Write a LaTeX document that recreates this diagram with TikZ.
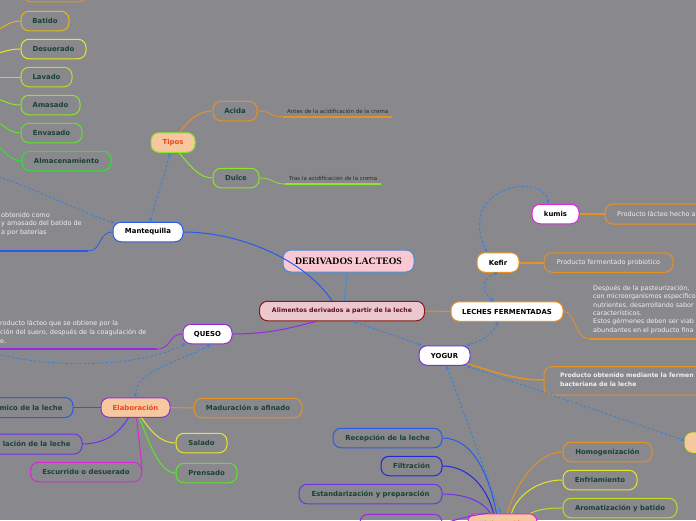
\documentclass[tikz,border=0pt]{standalone}
\usepackage{fontspec}
\setmainfont{DejaVu Sans}
\newfontfamily\serifb{Liberation Serif}
\usetikzlibrary{arrows.meta,calc}
\definecolor{bg}{RGB}{137,137,141}
\definecolor{txg}{RGB}{25,65,55}
\definecolor{peach}{RGB}{247,200,160}
\definecolor{redt}{RGB}{235,70,25}
\definecolor{cOr}{RGB}{230,145,35}
\definecolor{cYo}{RGB}{225,185,25}
\definecolor{cYe}{RGB}{230,230,40}
\definecolor{cYg}{RGB}{190,220,40}
\definecolor{cLg}{RGB}{140,230,40}
\definecolor{cGr}{RGB}{90,230,40}
\definecolor{cGg}{RGB}{50,225,50}
\definecolor{cBl}{RGB}{40,90,235}
\definecolor{cDb}{RGB}{30,40,220}
\definecolor{cPu}{RGB}{110,50,235}
\definecolor{cVi}{RGB}{150,40,230}
\definecolor{cMa}{RGB}{215,40,215}
\definecolor{dblue}{RGB}{55,130,215}
\definecolor{tBl}{RGB}{70,140,210}
\definecolor{tPk}{RGB}{250,200,210}
\definecolor{aPk}{RGB}{235,200,205}
\definecolor{aRd}{RGB}{135,25,25}
\definecolor{aTx}{RGB}{95,15,30}
\definecolor{dtx}{RGB}{40,40,40}
\definecolor{wtx}{RGB}{240,240,240}
\tikzset{
  bx/.style={draw=#1, rounded corners=8pt, line width=1pt, minimum height=19.5pt, inner sep=0pt, font=\bfseries\fontsize{6.9}{7.5}\selectfont, text=txg},
  wbx/.style={bx=#1, fill=white, text=black},
  pbx/.style={bx=#1, fill=peach, text=redt},
  ln/.style={draw=#1, line width=1pt},
  dsh/.style={draw=dblue, line width=0.9pt, dash pattern=on 2.5pt off 2pt, {Stealth[length=4pt,width=3.5pt]}-{Stealth[length=4pt,width=3.5pt]}},
  dsh1/.style={draw=dblue, line width=0.9pt, dash pattern=on 2.5pt off 2pt, -{Stealth[length=4pt,width=3.5pt]}},
  desc/.style={text=wtx, font=\fontsize{6.5}{8.8}\selectfont, align=left, inner sep=0pt},
  tiny/.style={text=dtx, font=\fontsize{5.5}{6}\selectfont, inner sep=0pt},
}
\begin{document}
\begin{tikzpicture}[x=1pt,y=-1pt]
\fill[bg] (0,0) rectangle (696,520);
\useasboundingbox (0,0) rectangle (696,520);

% ---- central
\node[draw=tBl, fill=tPk, rounded corners=8pt, line width=1pt, minimum width=131pt, minimum height=22pt, inner sep=0pt, font=\serifb\bfseries\fontsize{9.8}{10}\selectfont] (title) at (348.5,261) {DERIVADOS LACTEOS};
\node[draw=aRd, fill=aPk, text=aTx, rounded corners=8pt, line width=1pt, minimum width=165pt, minimum height=19.5pt, inner sep=0pt, font=\bfseries\fontsize{6.2}{7}\selectfont] (alim) at (342,311) {Alimentos derivados a partir de la leche};

% ---- Mantequilla branch
\node[wbx=cBl, minimum width=70pt] (mant) at (148,232) {Mantequilla};
\node[pbx=cLg, minimum width=44pt] (tipos) at (173,142.5) {Tipos};
\node[bx=cOr, minimum width=44pt] (acida) at (235,111) {Acida};
\node[bx=cLg, minimum width=46pt] (dulce) at (236,178) {Dulce};
\node[tiny, anchor=west] (tacida) at (287,111) {Antes de la acidificación de la crema};
\node[tiny, anchor=west] (tdulce) at (289,178) {Tras la acidificación de la crema};
\coordinate (ua1) at (283,117); \coordinate (ua2) at (392,117);
\coordinate (ud1) at (285,184); \coordinate (ud2) at (381,184);
\draw[cOr, line width=0.8pt] (acida.east) .. controls (272,111) and (270,117) .. (ua1);
\draw[cOr, line width=1.8pt] (ua1) -- (ua2);
\draw[cLg, line width=0.8pt] (dulce.east) .. controls (274,178) and (272,184) .. (ud1);
\draw[cLg, line width=1.8pt] (ud1) -- (ud2);
\draw[ln=cOr] ($(tipos.north)+(7,0)$) .. controls (190,118) and (200,111) .. (acida.west);
\draw[ln=cLg] ($(tipos.south)+(6,0)$) .. controls (192,168) and (200,178) .. (dulce.west);

% left column
\node[bx=cOr, minimum width=64pt] (topb) at (55,-8) {};
\node[bx=cYo, minimum width=48pt] (batido) at (45,21) {Batido};
\node[bx=cYe, minimum width=65pt] (desuer) at (53.5,49) {Desuerado};
\node[bx=cYg, minimum width=51pt] (lavado) at (46.5,77) {Lavado};
\node[bx=cLg, minimum width=59pt] (amasado) at (50.5,105) {Amasado};
\node[bx=cGr, minimum width=61pt] (envasado) at (51.5,133) {Envasado};
\node[bx=cGg, minimum width=89pt] (almac) at (66.5,161) {Almacenamiento};
\coordinate (l1) at (-10,33); \coordinate (l2) at (-10,55); \coordinate (l3) at (-10,77);
\coordinate (l4) at (-10,97); \coordinate (l5) at (-10,119); \coordinate (l6) at (-10,141);
\draw[ln=cYo] (l1) .. controls (5,28) and (8,21) .. (batido.west);
\draw[ln=cYe] (l2) .. controls (5,52) and (8,49) .. (desuer.west);
\draw[ln=cYg] (l3) -- (lavado.west);
\draw[ln=cLg] (l4) .. controls (5,100) and (8,105) .. (amasado.west);
\draw[ln=cGr] (l5) .. controls (5,124) and (8,133) .. (envasado.west);
\draw[ln=cGg] (l6) .. controls (5,148) and (8,161) .. (almac.west);

% Mantequilla description
\node[desc, anchor=north west] (dmant) at (1,212) {obtenido como\\y amasado del batido de\\a por baterias};
\coordinate (um0) at (-5,251); \coordinate (um1) at (88,251);
\draw[cBl, line width=1.8pt] (um0) -- (um1);
\draw[cBl, line width=0.8pt] (um1) .. controls (102,251) and (98,232) .. (mant.west);

% dashed into Mantequilla
\coordinate (dl1) at (-10,174);
\draw[dsh1] (dl1) .. controls (40,190) and (80,212) .. ($(mant.west)+(2,-9)$);
\draw[dsh] ($(mant.north)+(2,0)$) .. controls (156,200) and (166,170) .. ($(tipos.south)+(-3,0)$);

\draw[ln=cBl] (mant.east) .. controls (240,232) and (305,260) .. ($(alim.north)+(-10,0)$);
\draw[ln=tBl] ($(title.south)+(-1,0)$) -- ($(alim.north)+(2,0)$);

% ---- QUESO branch
\node[wbx=cVi, minimum width=49pt] (queso) at (207.5,334) {QUESO};
\node[desc, anchor=north west] (dqueso) at (0,320) {roducto lácteo que se obtiene por la\\ción del suero, después de la coagulación de\\e.};
\coordinate (uq0) at (-5,349); \coordinate (uq1) at (157,349);
\draw[cVi, line width=1.8pt] (uq0) -- (uq1);
\draw[cVi, line width=0.8pt] (uq1) .. controls (172,349) and (168,334) .. (queso.west);
\draw[ln=cVi] (queso.east) .. controls (275,334) and (300,325) .. ($(alim.south west)+(58,0)$);
\coordinate (dl2) at (-10,352);
\draw[dsh1] (dl2) .. controls (60,372) and (150,364) .. ($(queso.south west)+(3,-1)$);

% Elaboracion (queso)
\node[pbx=cVi, minimum width=69pt] (elab) at (135.5,407.5) {Elaboración};
\draw[dsh] ($(queso.south)+(3,0)$) .. controls (185,360) and (135,370) .. (elab.north);
\draw[ln=cBl, rounded corners=8pt] (-30,397.5) rectangle (73,417.5);
\node[bx=cBl, draw=none, anchor=east] (term) at (63,407.5) {mico de la leche};
\draw[ln=cPu, rounded corners=8pt] (-30,434) rectangle (82,454);
\node[bx=cPu, draw=none, anchor=east] (coag) at (71,444) {lación de la leche};
\node[bx=cMa, minimum width=111pt] (escur) at (86,472) {Escurrido o desuerado};
\node[bx=cOr, minimum width=108pt] (madur) at (248,408) {Maduración o afinado};
\node[bx=cYe, minimum width=51pt] (salado) at (201.5,443) {Salado};
\node[bx=cGr, minimum width=61pt] (prensado) at (206.5,473) {Prensado};
\coordinate (tE) at (73,407.5); \coordinate (cE) at (82,444);
\draw[ln=cBl] (tE) -- (elab.west);
\draw[ln=cPu] (cE) .. controls (110,444) and (122,428) .. ($(elab.south)+(-7,0)$);
\draw[ln=cMa] ($(elab.south)+(1,0)$) .. controls (139,440) and (141,455) .. (escur.east);
\draw[ln=cYe] ($(elab.south)+(6,0)$) .. controls (150,430) and (160,443) .. (salado.west);
\draw[ln=cGr] ($(elab.south)+(4,0)$) .. controls (150,445) and (160,473) .. (prensado.west);
\draw[ln=cOr] (elab.east) -- (madur.west);

% ---- LECHES FERMENTADAS branch
\node[wbx=cOr, minimum width=112pt] (leches) at (507,311.5) {LECHES FERMENTADAS};
\draw[ln=cOr] (alim.east) -- (leches.west);
\node[wbx=cOr, minimum width=42pt] (kefir) at (498,262.5) {Kefir};
\node[bx=cOr, minimum width=129pt, text=wtx, font=\fontsize{6.5}{7}\selectfont] (dkefir) at (608.5,262.5) {Producto fermentado probiotico};
\draw[cOr, line width=2pt] (kefir.east) -- (dkefir.west);
\node[wbx=cMa, minimum width=47pt] (kumis) at (555.5,214) {kumis};
\draw[ln=cOr, rounded corners=8pt] (605,204) rectangle (720,224);
\node[desc, anchor=west] (dkumis) at (617,214) {Producto lácteo hecho a};
\coordinate (kuW) at (605,214);
\draw[cOr, line width=1.5pt] (kumis.east) -- (kuW);
\draw[dsh] ($(kumis.north)+(-7,0)$) .. controls (545,172) and (455,185) .. ($(kefir.north)+(-11,0)$);
\draw[dsh] (kefir.south) .. controls (478,280) and (484,294) .. ($(leches.north)+(-13,0)$);
\node[desc, anchor=north west, font=\fontsize{6.4}{8.4}\selectfont] (dleches) at (593,285) {Después de la pasteurización,\\con microorganismos específico\\nutrientes, desarrollando sabor\\característicos.\\Estos gérmenes deben ser viab\\abundantes en el producto fina};
\coordinate (ul0) at (590,339); \coordinate (ul1) at (705,339);
\draw[cOr, line width=0.8pt] (leches.east) .. controls (576,311) and (574,339) .. (ul0);
\draw[cOr, line width=1.5pt] (ul0) -- (ul1);

% YOGUR
\node[wbx=cPu, minimum width=51pt] (yogur) at (444.5,355.5) {YOGUR};
\draw[dsh] ($(leches.south)+(-9,0)$) .. controls (490,338) and (478,342) .. ($(yogur.north east)+(-4,0)$);
\draw[dsh] ($(alim.south)+(11,0)$) -- ($(yogur.north west)+(3,0)$);
\draw[ln=cOr, rounded corners=8pt] (544,366.5) rectangle (720,395);
\node[desc, anchor=north west, font=\bfseries\fontsize{6.1}{8.8}\selectfont] (dyogur) at (560,373) {Producto obtenido mediante la fermen\\bacteriana de la leche};
\coordinate (yoW) at (544,380);
\draw[cOr, line width=1.5pt] ($(yogur.south east)+(-3,-2)$) .. controls (495,372) and (515,380) .. (yoW);

% right node
\node[bx=cYe, fill=peach, minimum width=50pt] (rnode) at (710,442.5) {};
\draw[dsh] ($(yogur.south east)+(-4,0)$) -- ($(rnode.west)+(0,-2)$);

% bottom Elaboracion
\node[pbx=cMa, minimum width=69pt, minimum height=19.5pt] (elab2) at (502.5,523.5) {Elaboración};
\draw[dsh] ($(yogur.south)+(2,0)$) -- ($(elab2.north)+(-2,0)$);
\node[bx=cBl, minimum width=109pt] (recep) at (387.5,438) {Recepción de la leche};
\node[bx=cDb, minimum width=61pt] (filtr) at (411.5,466) {Filtración};
\node[bx=cPu, minimum width=143pt] (estan) at (370.5,494) {Estandarización y preparación};
\node[bx=cVi, minimum width=82pt] (pvis) at (401,524) {};
\node[bx=cOr, minimum width=89pt] (homog) at (607.5,452) {Homogenización};
\node[bx=cYe, minimum width=74pt] (enfri) at (600,480) {Enfriamiento};
\node[bx=cYg, minimum width=114pt] (aroma) at (620,508) {Aromatización y batido};
\draw[ln=cBl] (recep.east) .. controls (475,438) and (490,480) .. ($(elab2.north)+(-6,0)$);
\draw[ln=cDb] (filtr.east) .. controls (470,466) and (488,490) .. ($(elab2.north)+(-9,0)$);
\draw[ln=cPu] (estan.east) .. controls (468,494) and (484,503) .. ($(elab2.north)+(-12,0)$);
\draw[ln=cVi] (pvis.east) .. controls (460,518) and (475,515) .. ($(elab2.north)+(-15,0)$);
\draw[ln=cOr] (homog.west) .. controls (535,452) and (513,490) .. ($(elab2.north)+(5,0)$);
\draw[ln=cYe] (enfri.west) .. controls (535,480) and (516,498) .. ($(elab2.north)+(9,0)$);
\draw[ln=cYg] (aroma.west) .. controls (545,508) and (538,510) .. ($(elab2.north)+(28,0)$);
\end{tikzpicture}
\end{document}
